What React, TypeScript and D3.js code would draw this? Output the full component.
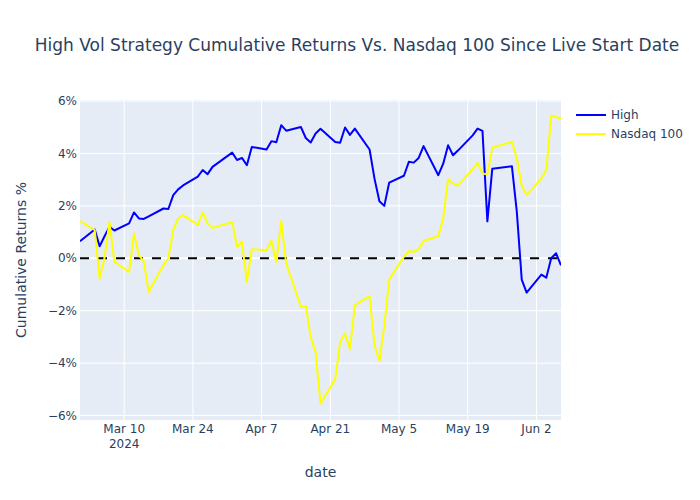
import React from "react";
import * as d3 from "d3";

const dates: string[] = [
  "2024-03-01","2024-03-04","2024-03-05","2024-03-06","2024-03-07","2024-03-08",
  "2024-03-11","2024-03-12","2024-03-13","2024-03-14","2024-03-15",
  "2024-03-18","2024-03-19","2024-03-20","2024-03-21","2024-03-22",
  "2024-03-25","2024-03-26","2024-03-27","2024-03-28",
  "2024-04-01","2024-04-02","2024-04-03","2024-04-04","2024-04-05",
  "2024-04-08","2024-04-09","2024-04-10","2024-04-11","2024-04-12",
  "2024-04-15","2024-04-16","2024-04-17","2024-04-18","2024-04-19",
  "2024-04-22","2024-04-23","2024-04-24","2024-04-25","2024-04-26",
  "2024-04-29","2024-04-30","2024-05-01","2024-05-02","2024-05-03",
  "2024-05-06","2024-05-07","2024-05-08","2024-05-09","2024-05-10",
  "2024-05-13","2024-05-14","2024-05-15","2024-05-16","2024-05-17",
  "2024-05-20","2024-05-21","2024-05-22","2024-05-23","2024-05-24",
  "2024-05-28","2024-05-29","2024-05-30","2024-05-31",
  "2024-06-03","2024-06-04","2024-06-05","2024-06-06","2024-06-07",
];

const highValues: number[] = [
  0.65, 1.10, 0.46, 0.84, 1.20, 1.06,
  1.33, 1.75, 1.52, 1.50, 1.60,
  1.90, 1.88, 2.41, 2.63, 2.78,
  3.12, 3.37, 3.21, 3.49,
  4.03, 3.75, 3.83, 3.55, 4.25,
  4.15, 4.47, 4.43, 5.08, 4.87,
  5.01, 4.59, 4.42, 4.76, 4.94,
  4.44, 4.41, 4.99, 4.71, 4.95,
  4.15, 3.04, 2.18, 2.00, 2.89,
  3.15, 3.68, 3.65, 3.83, 4.28,
  3.17, 3.61, 4.31, 3.93, 4.11,
  4.69, 4.95, 4.86, 1.41, 3.42,
  3.51, 1.77, -0.81, -1.31,
  -0.62, -0.74, 0.0, 0.19, -0.27,
];

const nasdaqValues: number[] = [
  1.42, 1.08, -0.77, 0.02, 1.39, -0.13,
  -0.52, 0.95, 0.12, -0.13, -1.28,
  -0.26, 0.0, 1.08, 1.52, 1.65,
  1.27, 1.75, 1.33, 1.16,
  1.38, 0.44, 0.63, -0.90, 0.35,
  0.31, 0.67, -0.13, 1.42, -0.19,
  -1.85, -1.82, -3.0, -3.57, -5.54,
  -4.62, -3.19, -2.87, -3.47, -1.79,
  -1.44, -3.29, -3.91, -2.59, -0.81,
  0.06, 0.27, 0.25, 0.35, 0.66,
  0.85, 1.52, 3.02, 2.86, 2.77,
  3.40, 3.64, 3.24, 3.20, 4.22,
  4.45, 3.81, 2.77, 2.41,
  3.05, 3.37, 5.44, 5.40, 5.31,
];

const xTickDates: string[] = ["2024-03-10","2024-03-24","2024-04-07","2024-04-21","2024-05-05","2024-05-19","2024-06-02"];
const xTickLabels: string[] = ["Mar 10","Mar 24","Apr 7","Apr 21","May 5","May 19","Jun 2"];
const yTicks: number[] = [-6, -4, -2, 0, 2, 4, 6];
const seriesNames: string[] = ["High", "Nasdaq 100"];
const seriesColors: string[] = ["#0000ff", "#ffff00"];

const W = 700, H = 500;
const L = 80, R = 561, T = 100, B = 420;
const FONT = "'DejaVu Sans', 'Open Sans', sans-serif";
const TXT = "#2a3f5f";

export default function App() {
  const parse = d3.utcParse("%Y-%m-%d");
  const xs = dates.map((d) => parse(d) as Date);
  const x = d3.scaleUtc().domain([xs[0], xs[xs.length - 1]]).range([L, R]);
  const y = d3.scaleLinear().domain([-6.17, 6.04]).range([B, T]);
  const series = [highValues, nasdaqValues];
  const line = d3
    .line<number>()
    .x((_, i) => x(xs[i]))
    .y((v) => y(v));

  return (
    <svg width={W} height={H} style={{ position: "absolute", left: 0, top: 0, background: "#fff" }} fontFamily={FONT}>
      <rect x={L} y={T} width={R - L} height={B - T} fill="#E5ECF6" />
      {xTickDates.map((d, i) => {
        const xx = x(parse(d) as Date);
        return <line key={"gx" + i} x1={xx} x2={xx} y1={T} y2={B} stroke="#fff" strokeWidth={1} />;
      })}
      {yTicks.map((t) => (
        <line key={"gy" + t} x1={L} x2={R} y1={y(t)} y2={y(t)} stroke="#fff" strokeWidth={t === 0 ? 2 : 1} />
      ))}
      <line x1={L} x2={R} y1={y(0)} y2={y(0)} stroke="#000" strokeWidth={2} strokeDasharray="9,9" />
      <defs>
        <clipPath id="plotclip">
          <rect x={L} y={T} width={R - L} height={B - T} />
        </clipPath>
      </defs>
      <g clipPath="url(#plotclip)">
        {series.map((s, i) => (
          <path key={"s" + i} d={line(s) || ""} fill="none" stroke={seriesColors[i]} strokeWidth={2} strokeLinejoin="round" />
        ))}
      </g>
      {yTicks.map((t) => (
        <text key={"yl" + t} x={L - 3} y={y(t)} dy="0.35em" textAnchor="end" fontSize={12} fill={TXT}>
          {t < 0 ? "\u2212" + Math.abs(t) + "%" : t + "%"}
        </text>
      ))}
      {xTickDates.map((d, i) => {
        const xx = x(parse(d) as Date);
        return (
          <text key={"xl" + i} x={xx} y={433} textAnchor="middle" fontSize={12} fill={TXT}>
            {xTickLabels[i]}
            {i === 0 ? (
              <tspan x={xx} dy={15}>2024</tspan>
            ) : null}
          </text>
        );
      })}
      <text x={(L + R) / 2} y={477} textAnchor="middle" fontSize={14} fill={TXT}>date</text>
      <text transform={`translate(26,${(T + B) / 2}) rotate(-90)`} textAnchor="middle" fontSize={14} fill={TXT}>
        Cumulative Returns %
      </text>
      <text x={357} y={51} textAnchor="middle" fontSize={17} fill={TXT}>
        High Vol Strategy Cumulative Returns Vs. Nasdaq 100 Since Live Start Date
      </text>
      {seriesNames.map((n, i) => (
        <g key={"lg" + i} transform={`translate(576,${115 + i * 19})`}>
          <line x1={0} x2={30} y1={0} y2={0} stroke={seriesColors[i]} strokeWidth={2} />
          <text x={35} y={0} dy="0.35em" fontSize={12} fill={TXT}>{n}</text>
        </g>
      ))}
    </svg>
  );
}
